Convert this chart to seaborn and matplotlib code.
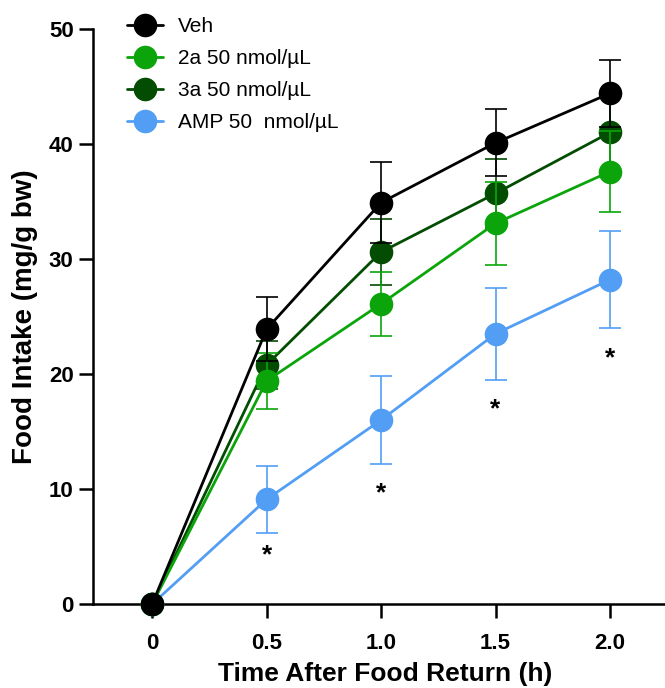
import numpy as np
import pandas as pd
import seaborn as sns
import matplotlib.pyplot as plt
from matplotlib.lines import Line2D

times = [0, 0.5, 1.0, 1.5, 2.0]
groups = ["Veh", "2a 50 nmol/\u00b5L", "3a 50 nmol/\u00b5L", "AMP 50  nmol/\u00b5L"]
veh_mean = [0, 23.9, 34.9, 40.1, 44.4]
veh_sem = [0, 2.8, 3.5, 2.9, 2.9]
a2_mean = [0, 19.4, 26.1, 33.1, 37.6]
a2_sem = [0, 2.4, 2.8, 3.6, 3.5]
a3_mean = [0, 20.8, 30.6, 35.7, 41.0]
a3_sem = [0, 2.1, 2.9, 3.0, 3.5]
amp_mean = [0, 9.1, 16.0, 23.5, 28.2]
amp_sem = [0, 2.9, 3.8, 4.0, 4.2]
star_x = [0.5, 1.0, 1.5, 2.0]
star_y = [4.2, 9.6, 16.9, 21.4]

colors = {groups[0]: "#000000", groups[1]: "#0ba50b",
          groups[2]: "#024d02", groups[3]: "#529ef5"}

means = [veh_mean, a2_mean, a3_mean, amp_mean]
sems = [veh_sem, a2_sem, a3_sem, amp_sem]
df = pd.concat([pd.DataFrame({"time": times, "intake": m, "sem": s, "group": g})
                for g, m, s in zip(groups, means, sems)], ignore_index=True)

sns.set_theme(style="ticks")
plt.rcParams["font.family"] = ["Liberation Sans", "DejaVu Sans"]
plt.rcParams["text.color"] = "black"
plt.rcParams["axes.labelcolor"] = "black"

fig = plt.figure(figsize=(6.65, 6.88), dpi=100)
ax = fig.add_axes([0.14, 0.122, 0.86, 0.836])

# draw AMP first so that Veh ends up on top, like the original
for i, g in enumerate(reversed(groups)):
    d = df[df["group"] == g]
    z = 3 + i
    ax.errorbar(d["time"], d["intake"], yerr=d["sem"], fmt="none",
                ecolor=colors[g], elinewidth=1.2, capsize=8, capthick=1.2,
                zorder=z, clip_on=False)
    sns.lineplot(data=d, x="time", y="intake", color=colors[g], marker="o",
                 markersize=17, markeredgewidth=0, linewidth=2, ax=ax,
                 zorder=z, clip_on=False, legend=False)

for x, y in zip(star_x, star_y):
    ax.text(x, y, "*", ha="center", va="center", fontsize=19,
            fontweight="bold", color="black")

ax.set_xlim(-0.258, 2.24)
ax.set_ylim(0, 50)
ax.set_xticks(times)
ax.set_xticklabels(["0", "0.5", "1.0", "1.5", "2.0"])
ax.set_yticks([0, 10, 20, 30, 40, 50])
sns.despine(ax=ax)
for s in ["left", "bottom"]:
    ax.spines[s].set_linewidth(1.8)
    ax.spines[s].set_color("black")
ax.tick_params(axis="both", width=1.8, labelsize=16, colors="black")
ax.tick_params(axis="y", length=10, pad=4)
ax.tick_params(axis="x", length=10, pad=11)
for lab in ax.get_xticklabels() + ax.get_yticklabels():
    lab.set_fontweight("bold")

ax.set_xlabel("Time After Food Return (h)", fontsize=19, fontweight="bold", labelpad=3)
ax.set_ylabel("Food Intake (mg/g bw)", fontsize=20, fontweight="bold", labelpad=8)
ax.xaxis.set_label_coords(0.51, -0.1)

handles = [Line2D([], [], color=colors[g], marker="o", markersize=17,
                  markeredgewidth=0, linewidth=2) for g in groups]
ax.legend(handles, groups, loc="upper left", bbox_to_anchor=(0.045, 1.035),
          frameon=False, fontsize=15, handlelength=1.7, handletextpad=0.75,
          labelspacing=0.62, borderaxespad=0)

fig.savefig("out.png", dpi=100)
